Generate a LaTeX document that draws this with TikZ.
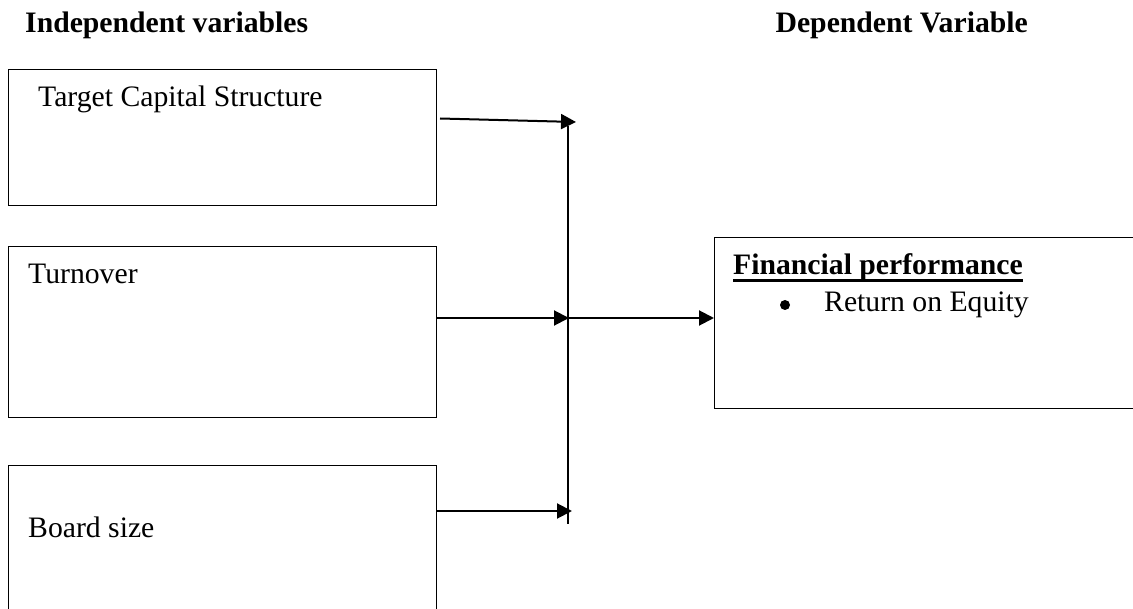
\documentclass[tikz,border=0pt]{standalone}
\usepackage{fontspec}
\setmainfont{Liberation Serif}
\usetikzlibrary{arrows.meta}
\begin{document}
\begin{tikzpicture}[x=1pt,y=-1pt,
  box/.style={draw,line width=1.3pt,anchor=north west,inner sep=0pt},
  txt/.style={anchor=base west,inner sep=0pt,font=\fontsize{29.7}{36}\selectfont},
  btxt/.style={txt,font=\fontsize{29.7}{36}\selectfont\bfseries},
  conn/.style={line width=2pt,-{Triangle[length=15pt,width=15pt]}},
  bar/.style={line width=2pt}]
\useasboundingbox (0,0) rectangle (1133,609);
\clip (0,0) rectangle (1133,609);
% headings
\node[btxt] (hi) at (25,33) {Independent variables};
\node[btxt,anchor=base east] (hd) at (1028,33) {Dependent Variable};
% boxes
\node[box,minimum width=428pt,minimum height=136pt] (b1) at (8,69) {};
\node[box,minimum width=428pt,minimum height=171pt] (b2) at (8,246) {};
\node[box,minimum width=428pt,minimum height=170pt] (b3) at (8,465) {};
\node[box,minimum width=440pt,minimum height=171pt] (br) at (714,237) {};
% texts
\node[txt] (t1) at (38,107) {Target Capital Structure};
\node[txt] (t2) at (28,284) {Turnover};
\node[txt] (t3) at (28,537) {Board size};
\node[btxt] (t4) at (733,275) {Financial performance};
\draw[line width=2.2pt] ([yshift=-5.5pt]t4.base west) -- ([yshift=-5.5pt]t4.base east);
\node[circle,fill,inner sep=0pt,minimum size=10pt] (bul) at (785,305) {};
\node[txt] (t5) at (824,312) {Return on Equity};
% connectors
\coordinate (vtop) at (568,126);
\coordinate (vbot) at (568,524);
\draw[bar] (vtop) -- (vbot);
\coordinate (a1s) at (440,118.5);
\coordinate (a1e) at (576,122);
\draw[conn] (a1s) -- (a1e);
\coordinate (a2s) at (436,318);
\coordinate (a2e) at (569,318);
\draw[conn] (a2s) -- (a2e);
\coordinate (a3s) at (569,318);
\draw[conn] (a3s) -- (br.west |- a3s);
\coordinate (a4s) at (437,511);
\coordinate (a4e) at (572,511);
\draw[conn] (a4s) -- (a4e);
\end{tikzpicture}
\end{document}
